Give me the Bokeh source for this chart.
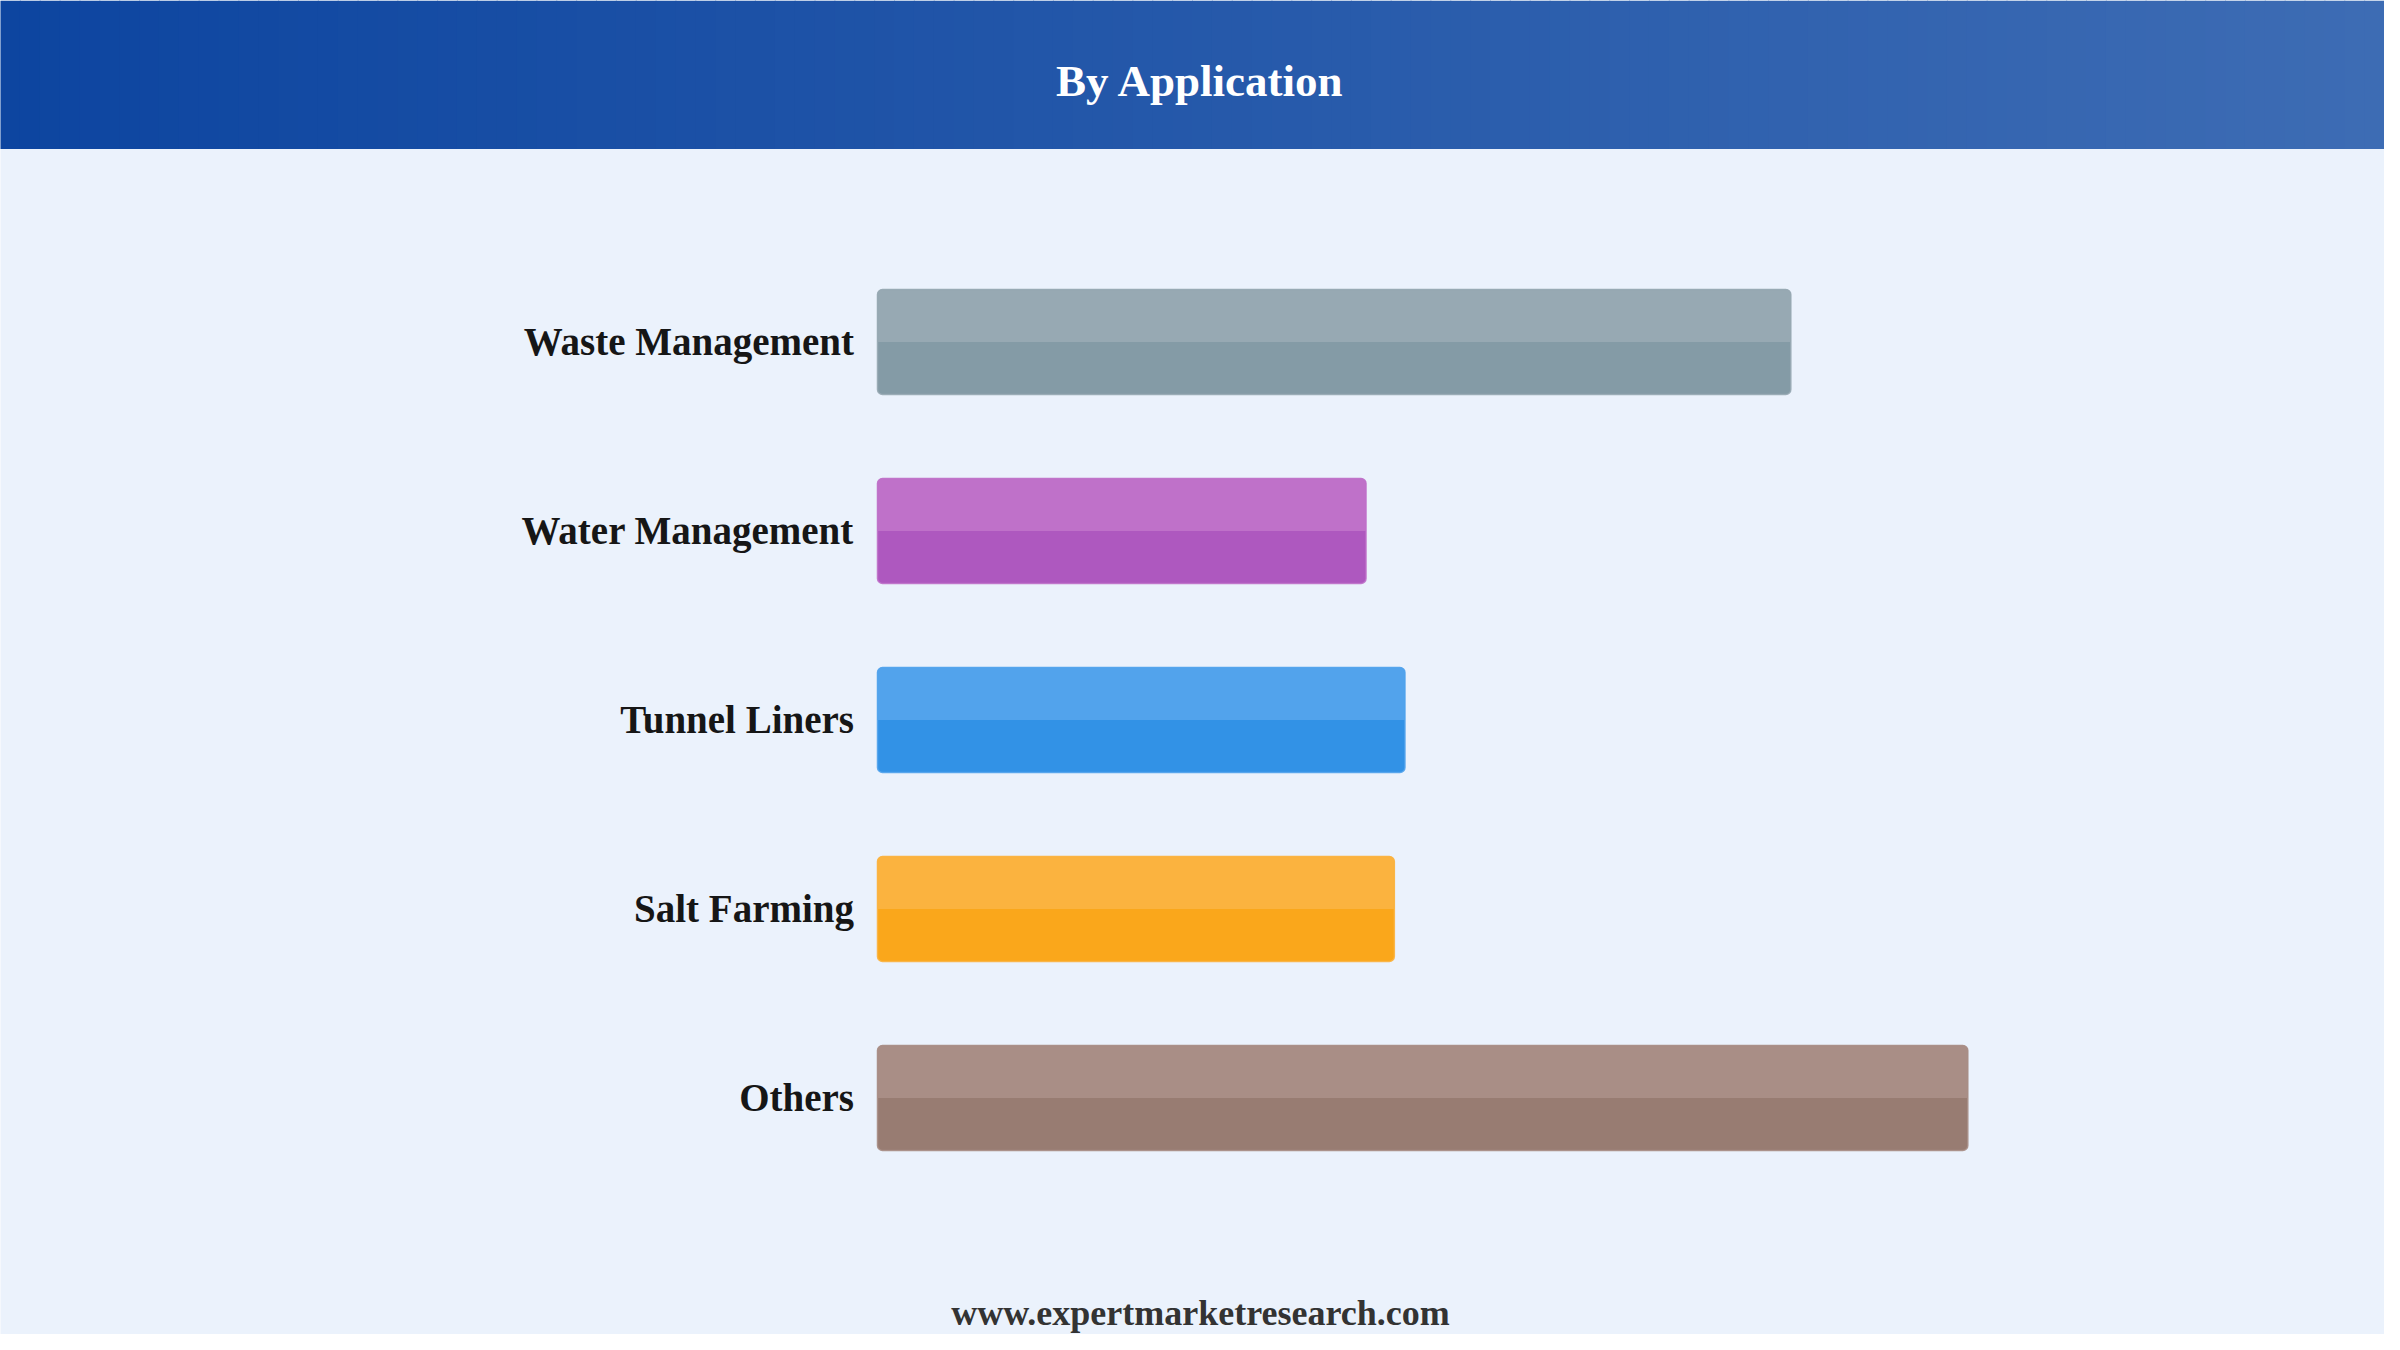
from bokeh.plotting import figure
from bokeh.models import Range1d, ColumnDataSource
from bokeh.core.properties import value
from bokeh.embed import file_html
from bokeh.resources import INLINE

# ---- data ----
title_text = "By Application"
footer_text = "www.expertmarketresearch.com"
categories = ["Waste Management", "Water Management", "Tunnel Liners", "Salt Farming", "Others"]
shares = [25.8, 13.8, 14.9, 14.6, 30.8]
colors_dark = ["#849BA6", "#AE58BF", "#3292E6", "#FAA71B", "#987C72"]
colors_light = ["#97A9B3", "#BF71C9", "#52A3EC", "#FBB33F", "#A98E86"]

# ---- layout constants ----
W, H = 2384, 1334
BG = "#EBF2FC"
FONT = value("Liberation Serif")
px_per_unit = 35.4
bar_left_px = 877.0
row_px = 189.0
first_row_px = 341.5
bar_h = 105.0 / row_px

x_start = -bar_left_px / px_per_unit
x_end = (W - bar_left_px) / px_per_unit
y_top = -first_row_px / row_px
y_bottom = y_top + H / row_px

p = figure(width=W, height=H, output_backend="svg", toolbar_location=None,
           x_axis_type=None, y_axis_type=None,
           x_range=Range1d(x_start, x_end), y_range=Range1d(y_bottom, y_top),
           min_border=0, background_fill_color=BG, border_fill_color=BG,
           outline_line_color=None)
p.extra_x_ranges = {"px": Range1d(0, W)}
p.extra_y_ranges = {"px": Range1d(H, 0)}
p.grid.visible = False

# ---- header gradient ----
def hex2rgb(h):
    return tuple(int(h[i:i + 2], 16) for i in (1, 3, 5))

c0, c1 = hex2rgb("#0D45A0"), hex2rgb("#3D6CB4")
n = 120
sw = W / n
lefts, rights, cols = [], [], []
for i in range(n):
    t = i / (n - 1)
    c = tuple(int(round(a + (b - a) * t)) for a, b in zip(c0, c1))
    lefts.append(i * sw - 0.5)
    rights.append((i + 1) * sw + 0.5)
    cols.append("#%02x%02x%02x" % c)
p.quad(left=lefts, right=rights, top=0, bottom=148.5, fill_color=cols, line_color=None,
       x_range_name="px", y_range_name="px")

p.text(x=[1200], y=[80], text=[title_text], text_font=FONT, text_font_style="bold",
       text_font_size="45px", text_color="white", text_align="center",
       text_baseline="alphabetic", x_range_name="px", y_range_name="px")

p.text(x=[1200], y=[1312], text=[footer_text], text_font=FONT, text_font_style="bold",
       text_font_size="36px", text_color="#333333", text_align="center",
       text_baseline="alphabetic", x_range_name="px", y_range_name="px")

# ---- bars ----
ypos = list(range(len(categories)))
src = ColumnDataSource(dict(y=ypos, ytop=[y - bar_h / 4 for y in ypos], share=shares,
                            cat=categories, dark=colors_dark, light=colors_light))

p.hbar(y="y", left=0, right="share", height=bar_h, source=src, fill_color="dark",
       line_color=None, border_radius=5)
p.hbar(y="ytop", left=0, right="share", height=bar_h / 2, source=src, fill_color="light",
       line_color=None, border_radius=(5, 5, 0, 0))
p.hbar(y="y", left=0, right="share", height=bar_h, source=src, fill_color=None,
       line_color="light", line_width=1.5, line_alpha=0.9, border_radius=5)

p.text(x=0, y="y", text="cat", source=src, x_offset=-23.5, y_offset=-1,
       text_font=FONT, text_font_style="bold", text_font_size="39px",
       text_color="#161616", text_align="right", text_baseline="alphabetic")

open("out.html", "w").write(file_html(p, INLINE))
